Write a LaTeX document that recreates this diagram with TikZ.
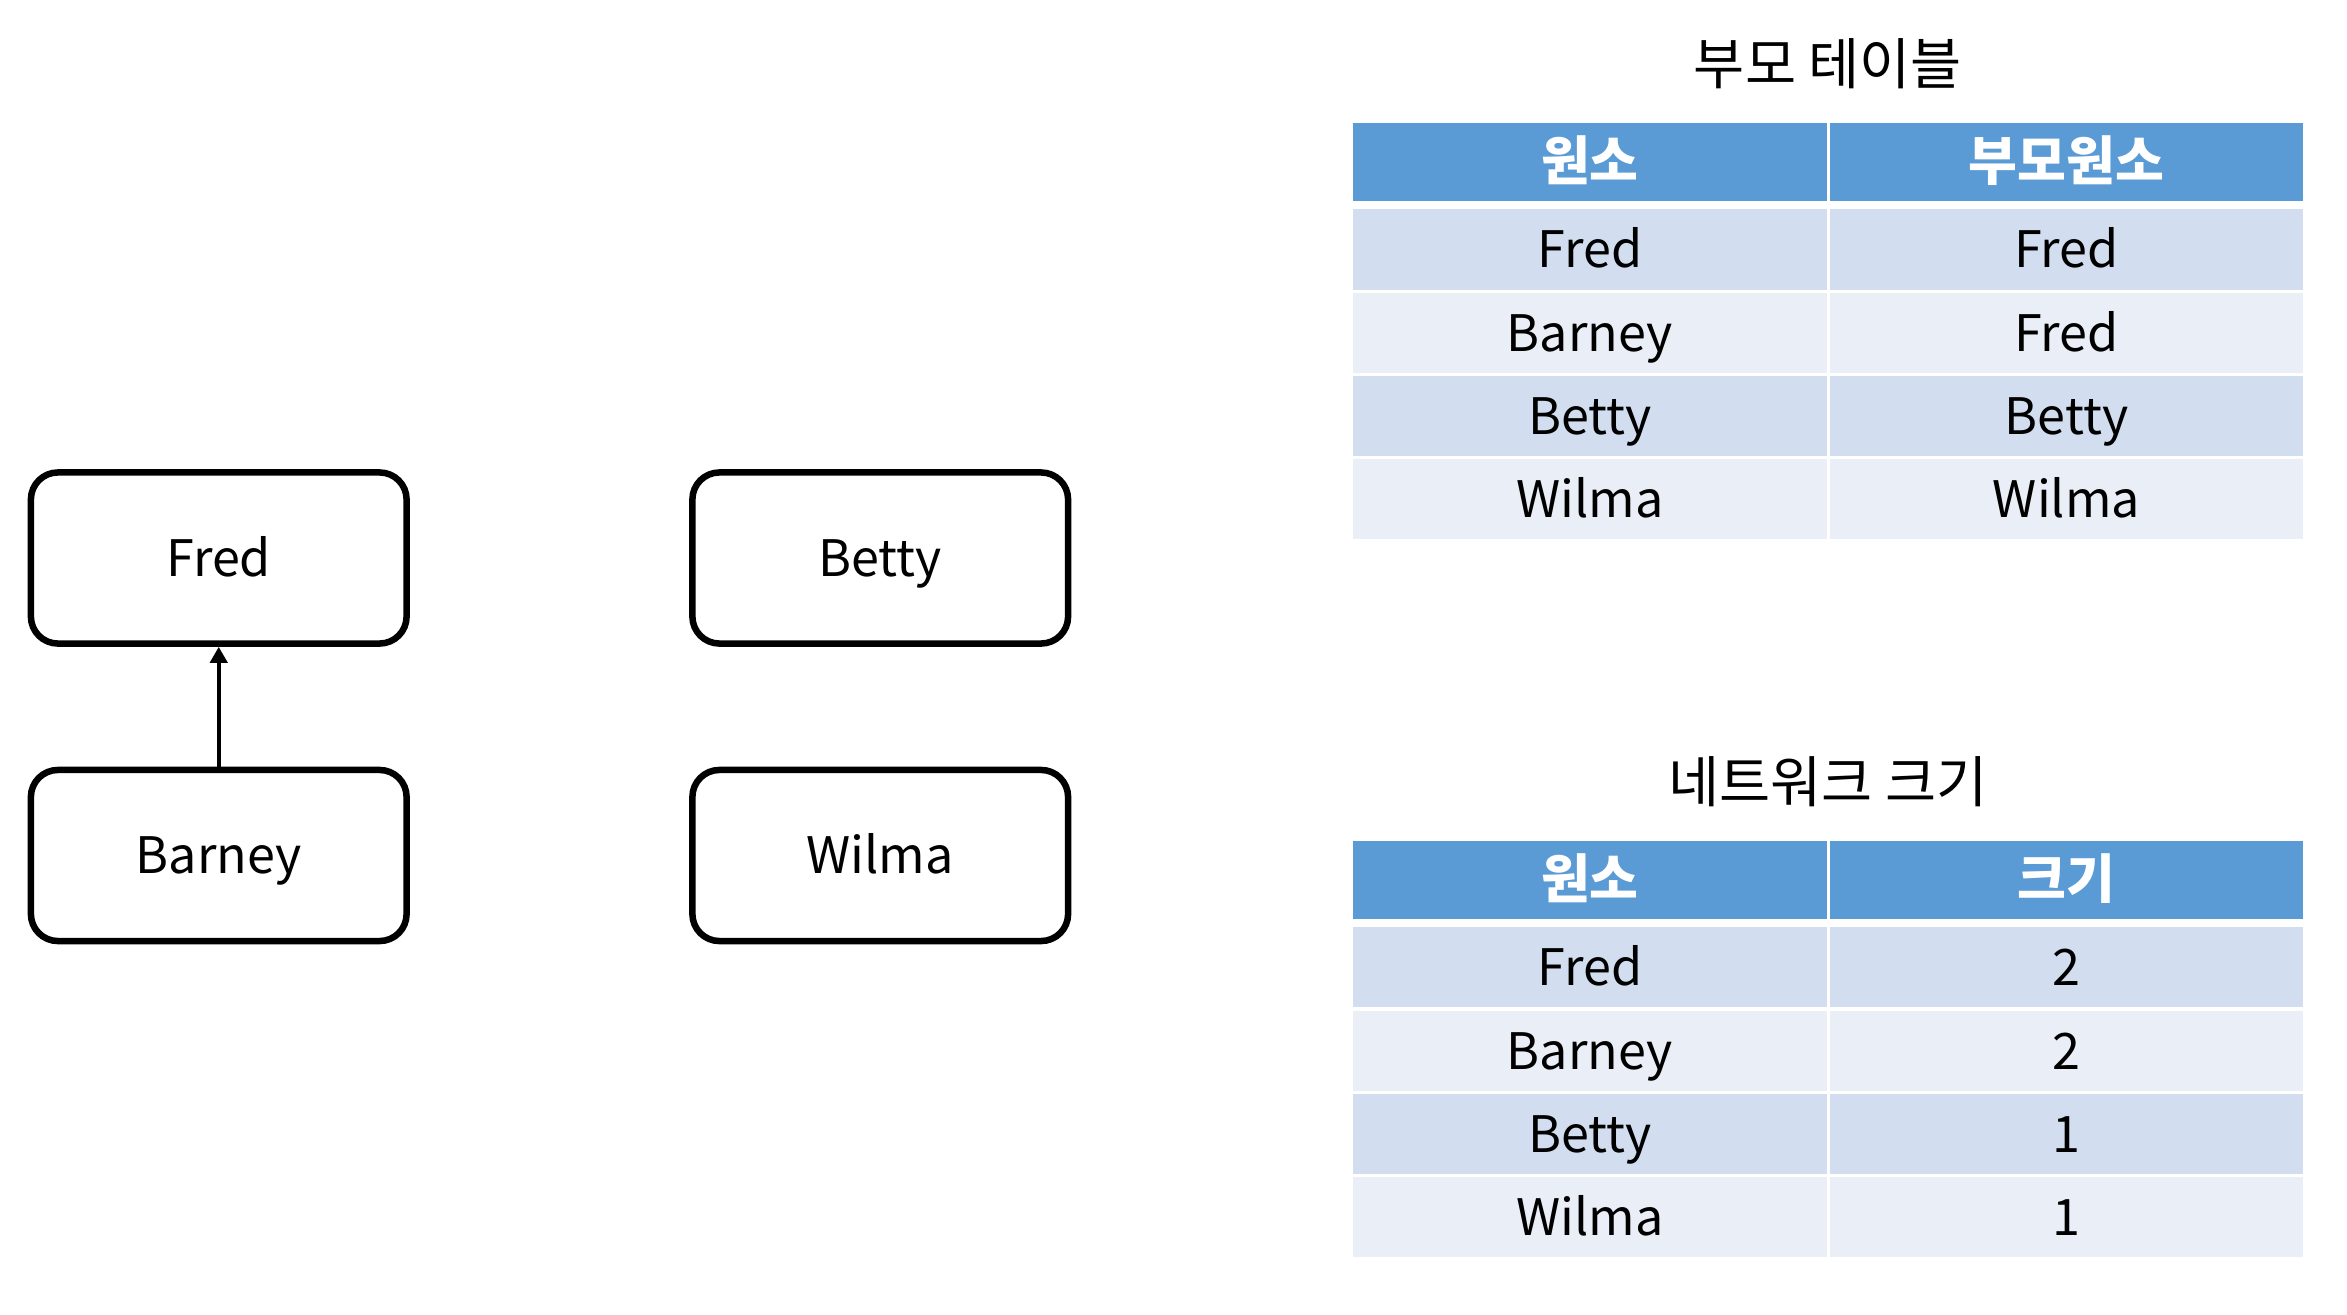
\documentclass[tikz,border=0pt]{standalone}
\usepackage{fontspec}
\setmainfont{Noto Sans CJK KR}
\usetikzlibrary{arrows.meta}
\definecolor{hdrblue}{HTML}{5B9BD5}
\definecolor{bandA}{HTML}{D2DEEF}
\definecolor{bandB}{HTML}{EAEFF7}
\tikzset{
  x=0.01cm, y=-0.01cm,
  txt/.style={font=\fontsize{14.3pt}{17pt}\selectfont, text height=10.5pt, text depth=0pt, inner sep=0pt},
  nodebox/.style={txt, draw=black, line width=0.065cm, rounded corners=0.27cm,
    minimum width=3.755cm, minimum height=1.71cm},
  cell/.style={txt, minimum height=0.8cm, outer sep=0pt},
  hdrcell/.style={txt, fill=hdrblue, text=white, minimum height=0.78cm, outer sep=0pt,
    font=\fontsize{15.1pt}{18pt}\selectfont\bfseries},
  colA/.style={minimum width=4.737cm},
  colB/.style={minimum width=4.73cm},
  ttl/.style={font=\fontsize{15.8pt}{19pt}\selectfont, text height=11.5pt, text depth=0pt, inner sep=0pt},
  link/.style={line width=0.045cm, -{Triangle[length=0.16cm, width=0.17cm]}}
}
\begin{document}
\begin{tikzpicture}
\useasboundingbox (0,0) rectangle (2347,1315);
% graph
\node[nodebox] (fred) at (218.75,558) {Fred};
\node[nodebox] (barney) at (218.75,855.5) {Barney};
\node[nodebox] (betty) at (880.25,558) {Betty};
\node[nodebox] (wilma) at (880.25,855.5) {Wilma};
\draw[link] (barney.north) -- (fred.south);
% table 1
\node[ttl] (title1) at (1828,64.5) {부모 테이블};
\node[hdrcell, colA] (t1h1) at (1589.85,162) {원소};
\node[hdrcell, colB] (t1h2) at (2066.5,162) {부모원소};
\node[cell, colA, fill=bandA] (t1r1a) at (1589.85,249.5) {Fred};
\node[cell, colB, fill=bandA] (t1r1b) at (2066.5,249.5) {Fred};
\node[cell, colA, fill=bandB] (t1r2a) at (1589.85,332.75) {Barney};
\node[cell, colB, fill=bandB] (t1r2b) at (2066.5,332.75) {Fred};
\node[cell, colA, fill=bandA] (t1r3a) at (1589.85,416) {Betty};
\node[cell, colB, fill=bandA] (t1r3b) at (2066.5,416) {Betty};
\node[cell, colA, fill=bandB] (t1r4a) at (1589.85,499.25) {Wilma};
\node[cell, colB, fill=bandB] (t1r4b) at (2066.5,499.25) {Wilma};
% table 2
\node[ttl] (title2) at (1828,782.4) {네트워크 크기};
\node[hdrcell, colA] (t2h1) at (1589.85,879.9) {원소};
\node[hdrcell, colB] (t2h2) at (2066.5,879.9) {크기};
\node[cell, colA, fill=bandA] (t2r1a) at (1589.85,967.4) {Fred};
\node[cell, colB, fill=bandA] (t2r1b) at (2066.5,967.4) {2};
\node[cell, colA, fill=bandB] (t2r2a) at (1589.85,1050.65) {Barney};
\node[cell, colB, fill=bandB] (t2r2b) at (2066.5,1050.65) {2};
\node[cell, colA, fill=bandA] (t2r3a) at (1589.85,1133.9) {Betty};
\node[cell, colB, fill=bandA] (t2r3b) at (2066.5,1133.9) {1};
\node[cell, colA, fill=bandB] (t2r4a) at (1589.85,1217.15) {Wilma};
\node[cell, colB, fill=bandB] (t2r4b) at (2066.5,1217.15) {1};
\end{tikzpicture}
\end{document}
